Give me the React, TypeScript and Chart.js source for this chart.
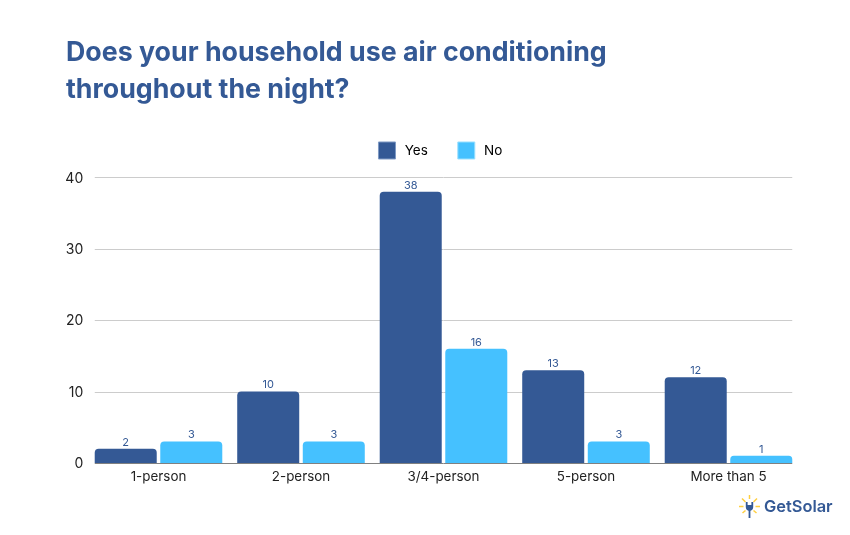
import React, { useEffect, useRef } from "react";
import { Chart, registerables } from "chart.js";

Chart.register(...registerables);

const titleLines = ["Does your household use air conditioning", "throughout the night?"];
const categories = ["1-person", "2-person", "3/4-person", "5-person", "More than 5"];
const yesValues = [2, 10, 38, 13, 12];
const noValues = [3, 3, 16, 3, 1];
const yTicks = [10, 20, 30, 40];
const yesColor = "#345995";
const noColor = "#45C1FF";
const fontFamily = "Inter, 'Noto Sans', sans-serif";

// Gridlines stop flush with the outer bars, inside the category band.
const GRID_INSET = 7.5;
const LEGEND_EXTRA_BOTTOM = 8.5;

const legendSpacer = {
  id: "legendSpacer",
  beforeLayout(chart: any) {
    const lg = chart.legend;
    if (lg && !lg.__spaced) {
      const fit = lg.fit;
      lg.fit = function () {
        fit.call(this);
        this.height += LEGEND_EXTRA_BOTTOM;
      };
      lg.__spaced = true;
    }
  },
};

const insetGrid = {
  id: "insetGrid",
  beforeDatasetsDraw(chart: any) {
    const { ctx, chartArea, scales } = chart;
    ctx.save();
    ctx.strokeStyle = "#CCCCCC";
    ctx.lineWidth = 1;
    yTicks.forEach((v) => {
      const y = Math.round(scales.y.getPixelForValue(v)) + 0.5;
      ctx.beginPath();
      ctx.moveTo(chartArea.left + GRID_INSET, y);
      ctx.lineTo(chartArea.right - GRID_INSET, y);
      ctx.stroke();
    });
    ctx.restore();
  },
  afterDatasetsDraw(chart: any) {
    const { ctx, chartArea, scales } = chart;
    ctx.save();
    ctx.strokeStyle = "#808080";
    ctx.lineWidth = 1;
    const y = Math.round(scales.y.getPixelForValue(0)) + 0.5;
    ctx.beginPath();
    ctx.moveTo(chartArea.left + GRID_INSET, y);
    ctx.lineTo(chartArea.right - GRID_INSET, y);
    ctx.stroke();
    ctx.restore();
  },
};

const valueLabels = {
  id: "valueLabels",
  afterDatasetsDraw(chart: any) {
    const { ctx } = chart;
    ctx.save();
    ctx.font = `400 11px ${fontFamily}`;
    ctx.fillStyle = yesColor;
    ctx.textAlign = "center";
    ctx.textBaseline = "bottom";
    chart.data.datasets.forEach((ds: any, i: number) => {
      chart.getDatasetMeta(i).data.forEach((el: any, j: number) => {
        ctx.fillText(String(ds.data[j]), el.x, el.y - 1);
      });
    });
    ctx.restore();
  },
};

function Logo() {
  const rays = [
    [0, 11.5, 4.5, 11.5], [21, 11.5, 16.5, 11.5], [3, 3.5, 6.5, 7], [18, 3.5, 14.5, 7],
    [10.5, 0, 10.5, 4], [3.5, 18, 6.5, 15.5], [17.5, 18, 14.5, 15.5],
  ];
  return (
    <div style={{ position: "absolute", left: 739, top: 494, display: "flex", alignItems: "center", height: 24 }}>
      <svg width="21" height="23" viewBox="0 0 21 23">
        {rays.map((r, i) => (
          <line key={i} x1={r[0]} y1={r[1]} x2={r[2]} y2={r[3]} stroke="#FFCF3F" strokeWidth="1.5" />
        ))}
        <path d="M6.8 7 V12 Q6.8 15.5 10.5 16 Q14.2 15.5 14.2 12 V7 H12.4 V10 H8.6 V7 Z" fill={yesColor} />
        <rect x="9.6" y="15" width="1.8" height="8" fill={yesColor} />
      </svg>
      <span style={{ marginLeft: 4, font: `600 16.4px ${fontFamily}`, color: yesColor }}>GetSolar</span>
    </div>
  );
}

export default function App() {
  const ref = useRef<HTMLCanvasElement>(null);
  useEffect(() => {
    const chart = new Chart(ref.current!, {
      type: "bar",
      plugins: [legendSpacer, insetGrid, valueLabels],
      data: {
        labels: categories,
        datasets: [
          { label: "Yes", data: yesValues, backgroundColor: yesColor, borderRadius: 4, categoryPercentage: 0.92, barPercentage: 0.946 },
          { label: "No", data: noValues, backgroundColor: noColor, borderRadius: 4, categoryPercentage: 0.92, barPercentage: 0.946 },
        ],
      },
      options: {
        animation: false,
        responsive: false,
        layout: { padding: { left: 66, right: 50.25, top: 34, bottom: 0 } },
        plugins: {
          title: {
            display: true,
            text: titleLines,
            align: "start",
            color: yesColor,
            font: { family: fontFamily, size: 26.75, weight: "700", lineHeight: 1.383 },
            padding: { top: 0, bottom: 4 },
          },
          legend: {
            position: "top",
            fullSize: false,
            labels: {
              boxWidth: 17,
              boxHeight: 17,
              padding: 30,
              color: "#222222",
              font: { family: fontFamily, size: 13.5 },
              generateLabels: () => [
                { text: "\u2009Yes", fillStyle: yesColor, strokeStyle: "#7F9AC4", lineWidth: 1, datasetIndex: 0 },
                { text: "\u2009No \u2009", fillStyle: noColor, strokeStyle: "#9BE0FF", lineWidth: 1, datasetIndex: 1 },
              ],
            },
          },
          tooltip: { enabled: false },
        },
        scales: {
          x: {
            grid: { display: false, drawTicks: false },
            border: { display: false },
            ticks: { color: "#222222", padding: 6, font: { family: fontFamily, size: 13.4 } },
            afterFit: (s: any) => { s.height = 72; },
          },
          y: {
            min: 0,
            max: 40,
            grid: { display: false, drawTicks: false },
            border: { display: false },
            ticks: { stepSize: 10, color: "#222222", padding: 4, labelOffset: 1, font: { family: fontFamily, size: 14 } },
            afterFit: (s: any) => { s.width = 21.25; },
          },
        },
      },
    } as any);
    return () => chart.destroy();
  }, []);
  return (
    <div style={{ position: "absolute", left: 0, top: 0, width: 850, height: 535, background: "#fff" }}>
      <canvas ref={ref} width={850} height={535} style={{ display: "block" }} />
      <Logo />
    </div>
  );
}
